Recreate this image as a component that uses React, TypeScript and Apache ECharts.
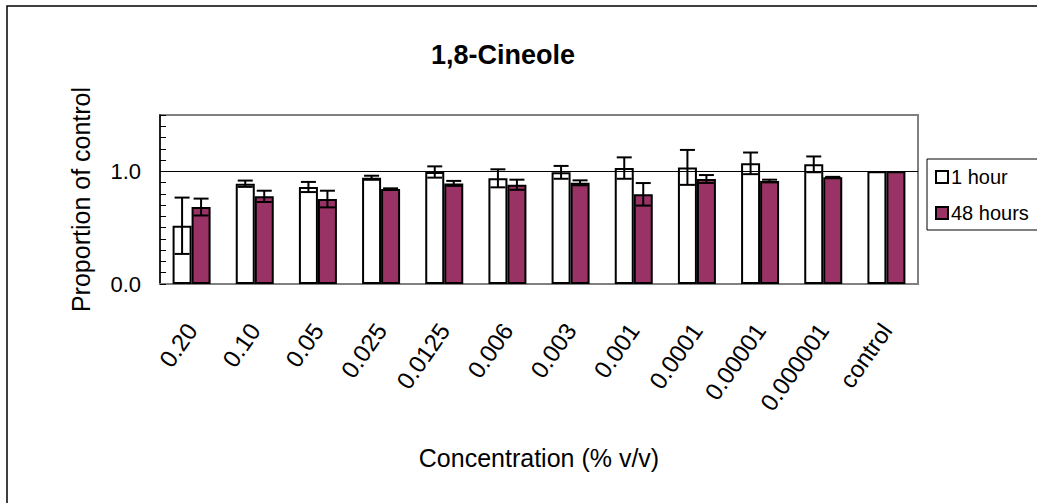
import React, { useEffect, useRef } from "react";
import * as echarts from "echarts";

const categories = ["0.20", "0.10", "0.05", "0.025", "0.0125", "0.006", "0.003", "0.001", "0.0001", "0.00001", "0.000001", "control"];
const oneHour = [0.517, 0.89, 0.861, 0.943, 0.994, 0.938, 0.991, 1.029, 1.035, 1.071, 1.062, 1.0];
const oneHourErr = [0.25, 0.028, 0.045, 0.018, 0.05, 0.08, 0.057, 0.095, 0.155, 0.096, 0.07, 0];
const fortyEight = [0.683, 0.778, 0.754, 0.843, 0.893, 0.881, 0.898, 0.796, 0.932, 0.914, 0.947, 1.0];
const fortyEightErr = [0.075, 0.05, 0.074, 0.006, 0.022, 0.045, 0.022, 0.1, 0.035, 0.012, 0.004, 0];
const yLabels: Record<string, string> = { "0": "0.0", "1": "1.0" };

const FONT = "'Liberation Sans', Arial, sans-serif";
const BAR_W = 19;

function errorSeries(name: string, values: number[], errs: number[], dx: number) {
  return {
    type: "custom",
    name,
    z: 5,
    silent: true,
    encode: { x: 0, y: 1 },
    data: values.map((v, i) => [i, v, errs[i]]),
    renderItem: (params: any, api: any) => {
      const x = api.value(0);
      const v = api.value(1);
      const e = api.value(2);
      if (!e) return { type: "group", children: [] };
      const top = api.coord([x, v + e]);
      const bot = api.coord([x, v - e]);
      const cx = top[0] + dx;
      const hw = 7.5;
      const style = { stroke: "#000", lineWidth: 2 };
      return {
        type: "group",
        children: [
          { type: "line", shape: { x1: cx, y1: top[1], x2: cx, y2: bot[1] }, style },
          { type: "line", shape: { x1: cx - hw, y1: top[1], x2: cx + hw, y2: top[1] }, style },
          { type: "line", shape: { x1: cx - hw, y1: bot[1], x2: cx + hw, y2: bot[1] }, style },
        ],
      };
    },
  };
}

export default function App() {
  const ref = useRef<HTMLDivElement>(null);
  useEffect(() => {
    if (!ref.current) return;
    const chart = echarts.init(ref.current, null, { renderer: "svg" });
    chart.setOption({
      animation: false,
      backgroundColor: "#fff",
      textStyle: { fontFamily: FONT, color: "#000" },
      title: {
        text: "1,8-Cineole",
        left: 431,
        top: 41,
        padding: 0,
        textStyle: { fontFamily: FONT, fontSize: 27, fontWeight: "bold", color: "#000" },
      },
      legend: {
        data: ["1 hour", "48 hours"],
        orient: "vertical",
        left: 927,
        top: 159,
        padding: [8, 40, 7, 8],
        itemGap: 16,
        itemWidth: 12,
        itemHeight: 12,
        borderColor: "#000",
        borderWidth: 1,
        icon: "rect",
        itemStyle: { borderColor: "#000", borderWidth: 2 },
        textStyle: { fontFamily: FONT, fontSize: 20, color: "#000", padding: [2, 0, 0, -2] },
      },
      graphic: [
        {
          type: "rect",
          shape: { x: 7, y: 6, width: 1200, height: 700 },
          style: { fill: "none", stroke: "#000", lineWidth: 1.5 },
          silent: true,
        },
      ],
      grid: {
        left: 160,
        right: 119,
        top: 115,
        bottom: 219,
        show: true,
        borderColor: "#808080",
        borderWidth: 2,
        backgroundColor: "#fff",
      },
      xAxis: {
        type: "category",
        data: categories,
        name: "Concentration (% v/v)",
        nameLocation: "middle",
        nameGap: 161,
        nameTextStyle: { fontFamily: FONT, fontSize: 25, color: "#000" },
        axisLine: { lineStyle: { color: "#808080", width: 2 } },
        axisTick: { show: false },
        axisLabel: {
          rotate: 55,
          margin: 42,
          interval: 0,
          fontFamily: FONT,
          fontSize: 24,
          color: "#000",
        },
      },
      yAxis: {
        type: "value",
        min: 0,
        max: 1.5,
        interval: 0.1,
        name: "Proportion of control",
        nameLocation: "middle",
        nameGap: 67,
        nameTextStyle: { fontFamily: FONT, fontSize: 25, color: "#000" },
        axisLine: { show: true, lineStyle: { color: "#000", width: 1.5 } },
        axisTick: { show: true, inside: true, length: 6, lineStyle: { color: "#000", width: 1 } },
        splitLine: { show: false },
        axisLabel: {
          margin: 19,
          fontFamily: FONT,
          fontSize: 22,
          color: "#000",
          formatter: (v: number) => {
            const r = Math.round(v * 10) / 10;
            if (Math.abs(v - r) > 1e-9) return "";
            return yLabels[String(r)] ?? "";
          },
        },
      },
      series: [
        {
          type: "line",
          name: "ref",
          data: [],
          z: 1,
          silent: true,
          markLine: {
            silent: true,
            symbol: "none",
            label: { show: false },
            lineStyle: { color: "#000", width: 1, type: "solid" },
            data: [{ yAxis: 1 }],
          },
        },
        {
          type: "bar",
          name: "1 hour",
          data: oneHour,
          barWidth: BAR_W,
          barGap: "0%",
          z: 2,
          itemStyle: { color: "#ffffff", borderColor: "#000", borderWidth: 2 },
        },
        {
          type: "bar",
          name: "48 hours",
          data: fortyEight,
          barWidth: BAR_W,
          barGap: "0%",
          z: 2,
          itemStyle: { color: "#993366", borderColor: "#000", borderWidth: 2 },
        },
        errorSeries("err1", oneHour, oneHourErr, -BAR_W / 2),
        errorSeries("err48", fortyEight, fortyEightErr, BAR_W / 2),
      ],
    });
    return () => chart.dispose();
  }, []);
  return (
    <div
      ref={ref}
      style={{ position: "fixed", left: 0, top: 0, width: 1037, height: 503 }}
    />
  );
}
